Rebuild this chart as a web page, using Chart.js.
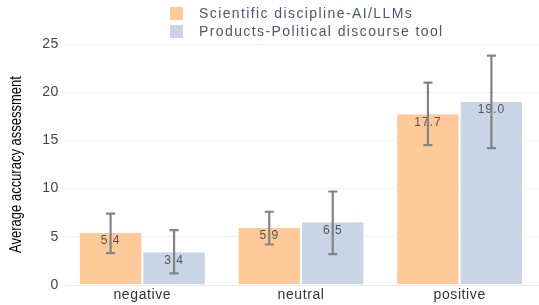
<!DOCTYPE html>
<html>
<head>
<meta charset="utf-8">
<script src="https://cdn.jsdelivr.net/npm/chart.js@4.4.0/dist/chart.umd.min.js"></script>
<style>
  html, body { margin: 0; padding: 0; background: #fff; }
  #wrap { position: relative; width: 539px; height: 305px; }
  #legend { position: absolute; left: 170px; top: 4px; font: 14px "Liberation Sans", Arial, sans-serif; letter-spacing: 1.4px; color: #4a5876; }
  .item { display: flex; align-items: center; height: 18px; }
  .sw { width: 13px; height: 13px; margin-right: 16px; }
</style>
</head>
<body>
<div id="wrap">
  <canvas id="c" width="539" height="305"></canvas>
  <div id="legend"></div>
</div>
<script>
"use strict";

// 카테고리 / 시리즈 값
const CATEGORIES = ["negative", "neutral", "positive"];
const SERIES_NAMES = ["Scientific discipline-AI/LLMs", "Products-Political discourse tool"];
const SCI_VALUES = [5.4, 5.9, 17.7];
const PROD_VALUES = [3.4, 6.5, 19.0];
// 오차 막대 (하한, 상한)
const SCI_LOW = [3.3, 4.2, 14.5];
const SCI_HIGH = [7.4, 7.6, 21.0];
const PROD_LOW = [1.2, 3.2, 14.2];
const PROD_HIGH = [5.7, 9.7, 23.8];
const Y_TICKS = [0, 5, 10, 15, 20, 25];
const Y_TITLE = "Average accuracy assessment";

const COLORS = ["#ffca99", "#c9d4e7"];
const FONT = "'Liberation Sans', Arial, sans-serif";

document.getElementById("legend").innerHTML = SERIES_NAMES.map(
  (n, i) => `<div class="item"><div class="sw" style="background:${COLORS[i]}"></div>${n}</div>`
).join("");

// 원본이 가로로 늘어난 느낌이라 자간을 조금 준다
const spacing = {
  id: "spacing",
  beforeDraw(chart) { chart.ctx.letterSpacing = "0.6px"; },
};

// 세로축 제목: 글자 높이 방향으로 살짝 늘려서 그린다
const yTitle = {
  id: "yTitle",
  afterDraw(chart) {
    const ctx = chart.ctx;
    const area = chart.chartArea;
    ctx.save();
    ctx.letterSpacing = "0px";
    ctx.translate(17, (area.top + area.bottom) / 2);
    ctx.rotate(-Math.PI / 2);
    ctx.scale(1, 1.25);
    ctx.fillStyle = "#000";
    ctx.font = "13px " + FONT;
    ctx.textAlign = "center";
    ctx.textBaseline = "middle";
    ctx.fillText(Y_TITLE, 0, 0);
    ctx.restore();
  },
};

const errorBars = {
  id: "errorBars",
  afterDatasetsDraw(chart) {
    const ctx = chart.ctx;
    const y = chart.scales.y;
    const ranges = [[SCI_LOW, SCI_HIGH], [PROD_LOW, PROD_HIGH]];
    ctx.save();
    chart.data.datasets.forEach((ds, di) => {
      const meta = chart.getDatasetMeta(di);
      meta.data.forEach((bar, i) => {
        // 값 라벨
        ctx.fillStyle = "#555";
        ctx.font = "12px " + FONT;
        ctx.letterSpacing = "1px";
        ctx.textAlign = "center";
        ctx.textBaseline = "middle";
        ctx.fillText(ds.data[i].toFixed(1), bar.x, bar.y + 8);
        // 오차 막대
        const yl = y.getPixelForValue(ranges[di][0][i]);
        const yh = y.getPixelForValue(ranges[di][1][i]);
        ctx.strokeStyle = "#838383";
        ctx.lineWidth = 2.2;
        ctx.beginPath();
        ctx.moveTo(bar.x, yl); ctx.lineTo(bar.x, yh);
        ctx.moveTo(bar.x - 4.5, yl); ctx.lineTo(bar.x + 4.5, yl);
        ctx.moveTo(bar.x - 4.5, yh); ctx.lineTo(bar.x + 4.5, yh);
        ctx.stroke();
      });
    });
    ctx.restore();
  },
};

new Chart(document.getElementById("c").getContext("2d"), {
  type: "bar",
  data: {
    labels: CATEGORIES,
    datasets: [
      { label: SERIES_NAMES[0], data: SCI_VALUES, backgroundColor: COLORS[0], borderColor: "#fff", borderWidth: { left: 1, right: 1 } },
      { label: SERIES_NAMES[1], data: PROD_VALUES, backgroundColor: COLORS[1], borderColor: "#fff", borderWidth: { left: 1, right: 1 } },
    ],
  },
  options: {
    responsive: false,
    animation: false,
    layout: { padding: { left: 0, top: 44, right: 0, bottom: 0 } },
    datasets: { bar: { categoryPercentage: 0.8, barPercentage: 1.0 } },
    plugins: { legend: { display: false }, tooltip: { enabled: false } },
    scales: {
      x: {
        grid: { display: false, drawTicks: false },
        border: { color: "#e6eaf3" },
        ticks: { color: "#333", font: { size: 14, family: FONT }, padding: 2 },
        afterFit: (s) => { s.height = 20; },
      },
      y: {
        min: 0,
        max: 25,
        afterBuildTicks: (s) => { s.ticks = Y_TICKS.map((v) => ({ value: v })); },
        grid: { color: "#eef1f7", drawTicks: false },
        border: { display: false },
        ticks: { color: "#444", font: { size: 14, family: FONT }, padding: 4 },
        afterFit: (s) => { s.width = 63; },
      },
    },
  },
  plugins: [spacing, errorBars, yTitle],
});
</script>
</body>
</html>
